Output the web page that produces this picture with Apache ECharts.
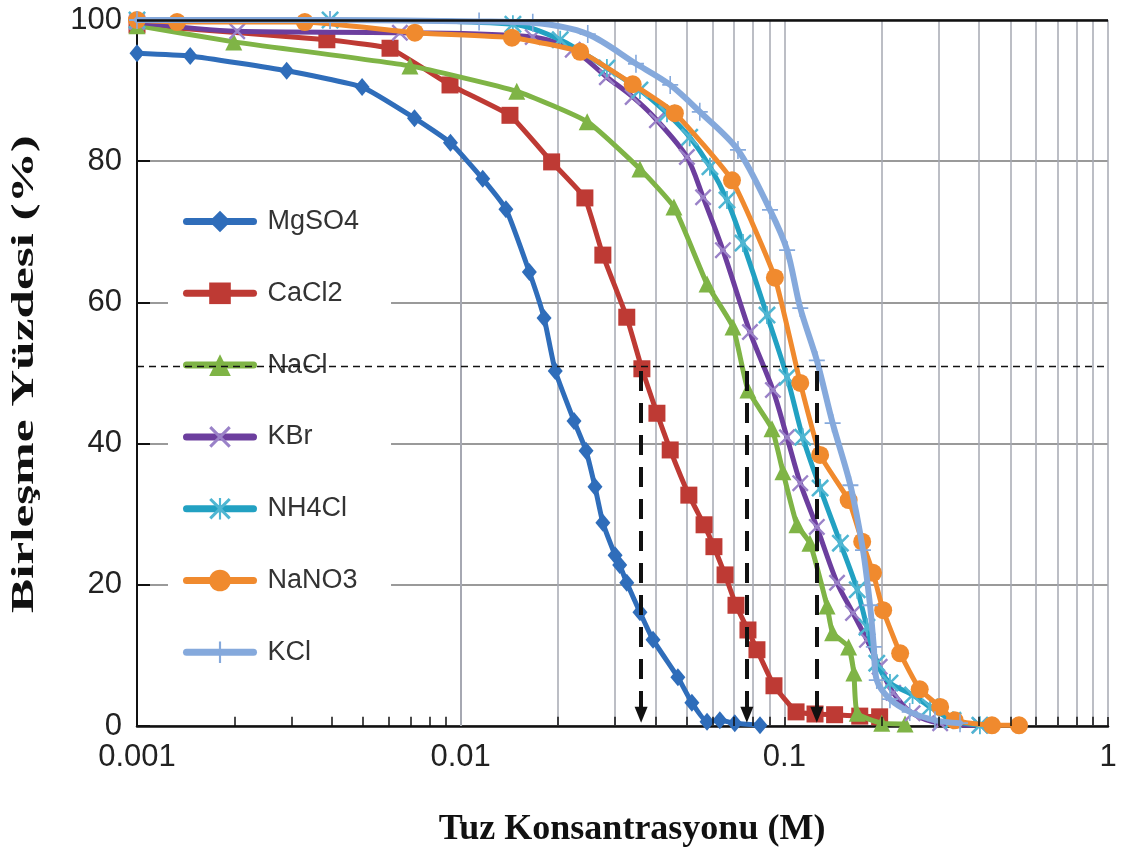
<!DOCTYPE html>
<html><head><meta charset="utf-8">
<script src="https://cdn.jsdelivr.net/npm/echarts@6/dist/echarts.min.js"></script>
<style>html,body{margin:0;padding:0;background:#fff}#c{width:1125px;height:857px}</style>
</head><body><div id="c"></div>
<script>
// ---- data ----
const seriesNames = ['MgSO4', 'CaCl2', 'NaCl', 'KBr', 'NH4Cl', 'NaNO3', 'KCl'];
const xTickLabels = ['0.001', '0.01', '0.1', '1'];
const yTicks = [0, 20, 40, 60, 80, 100];
const minorX = [0.002,0.003,0.004,0.005,0.006,0.007,0.008,0.009,
                0.02,0.03,0.04,0.05,0.06,0.07,0.08,0.09,
                0.2,0.3,0.4,0.5,0.6,0.7,0.8,0.9];
const refLevel = 51;
const arrowX = [0.0361, 0.0766, 0.126];

const mgso4X = [0.001, 0.00146, 0.0029, 0.00496, 0.0072, 0.0093, 0.0117, 0.0138, 0.0163, 0.0181, 0.0196, 0.0224, 0.0244, 0.026, 0.0275, 0.030, 0.031, 0.0326, 0.0358, 0.0393, 0.0469, 0.0518, 0.0577, 0.0632, 0.0703, 0.0841];
const mgso4Y = [95.3, 94.9, 92.8, 90.5, 86.1, 82.6, 77.5, 73.2, 64.3, 57.8, 50.3, 43.2, 39.0, 33.9, 28.8, 24.2, 22.8, 20.3, 16.1, 12.2, 6.9, 3.3, 0.6, 0.8, 0.4, 0.1];

const cacl2X = [0.001, 0.00386, 0.00605, 0.00927, 0.0142, 0.0191, 0.0242, 0.0275, 0.0326, 0.0363, 0.0404, 0.0444, 0.0507, 0.0565, 0.0606, 0.0656, 0.0709, 0.0772, 0.0823, 0.0929, 0.1087, 0.1244, 0.143, 0.171, 0.197];
const cacl2Y = [99.3, 97.2, 96.0, 90.8, 86.5, 79.9, 74.8, 66.7, 57.9, 50.6, 44.3, 39.1, 32.7, 28.5, 25.4, 21.4, 17.1, 13.6, 10.8, 5.7, 2.0, 1.7, 1.6, 1.4, 1.3];

const naclX = [0.001, 0.00199, 0.00697, 0.0149, 0.0246, 0.0358, 0.0456, 0.0577, 0.0694, 0.0772, 0.0916, 0.099, 0.1094, 0.12, 0.1355, 0.141, 0.158, 0.164, 0.168, 0.200, 0.236];
const naclY = [99.2, 96.9, 93.5, 89.9, 85.6, 78.9, 73.5, 62.6, 56.5, 47.6, 42.1, 36.0, 28.5, 25.9, 17.0, 13.2, 11.2, 7.5, 1.8, 0.4, 0.3];

const kbrX = [0.001, 0.00204, 0.00649, 0.0167, 0.0222, 0.0283, 0.034, 0.0404, 0.050, 0.0561, 0.0646, 0.0783, 0.0922, 0.1019, 0.112, 0.126, 0.1455, 0.163, 0.180, 0.197, 0.217, 0.249, 0.303, 0.402];
const kbrY = [99.7, 98.4, 98.2, 97.6, 95.8, 91.9, 89.1, 85.8, 80.6, 74.9, 67.4, 55.8, 47.6, 40.9, 34.4, 28.2, 20.3, 16.0, 12.2, 8.4, 4.7, 1.8, 0.4, 0.1];

const nh4clX = [0.001, 0.00395, 0.0145, 0.0203, 0.0283, 0.0358, 0.0434, 0.051, 0.0589, 0.0665, 0.0745, 0.0884, 0.102, 0.114, 0.129, 0.149, 0.168, 0.180, 0.193, 0.212, 0.249, 0.282, 0.332, 0.402];
const nh4clY = [100, 100, 99.4, 97.2, 93.2, 90.1, 86.8, 83.4, 79.2, 74.5, 68.4, 58.2, 49.4, 40.9, 33.7, 25.9, 19.3, 14.0, 8.9, 6.1, 4.4, 2.7, 0.8, 0.1];

const nano3X = [0.001, 0.00133, 0.0033, 0.00722, 0.0144, 0.0234, 0.034, 0.0459, 0.0689, 0.0935, 0.112, 0.129, 0.158, 0.174, 0.188, 0.202, 0.228, 0.262, 0.303, 0.336, 0.438, 0.531];
const nano3Y = [100, 99.7, 99.7, 98.2, 97.5, 95.5, 90.9, 86.8, 77.3, 63.5, 48.6, 38.4, 32.0, 26.1, 21.7, 16.4, 10.3, 5.2, 2.7, 0.8, 0.1, 0.1];

const kclX = [0.001, 0.00395, 0.0114, 0.0167, 0.0247, 0.0348, 0.0444, 0.0548, 0.0719, 0.0903, 0.102, 0.112, 0.126, 0.141, 0.160, 0.175, 0.184, 0.189, 0.193, 0.212, 0.244, 0.292, 0.349];
const kclY = [100, 100, 99.8, 99.6, 98.0, 93.8, 90.8, 87.0, 81.6, 73.1, 67.4, 59.2, 51.8, 42.9, 34.1, 24.9, 17.1, 11.2, 6.5, 3.8, 2.0, 0.8, 0.4];

// ---- styling ----
const colors = ['#2f6dba', '#be3a34', '#7fb446', '#6c3e9e', '#22a1c2', '#f08a2e', '#85a9dc'];
const markColors = ['#2f6dba', '#be3a34', '#7fb446', '#9a82c8', '#4fb6d2', '#f08a2e', '#85a9dc'];
const X_PATH = 'path://M0,2 L2,0 L10,8 L18,0 L20,2 L12,10 L20,18 L18,20 L10,12 L2,20 L0,18 L8,10 Z';
const STAR_PATH = 'path://M0,2 L2,0 L10,8 L18,0 L20,2 L12,10 L20,18 L18,20 L10,12 L2,20 L0,18 L8,10 Z M9,0 L11,0 L11,20 L9,20 Z';
const PLUS_PATH = 'path://M9,0 L11,0 L11,20 L9,20 Z M0,9 L20,9 L20,11 L0,11 Z';
const symbols = ['diamond', 'rect', 'triangle', X_PATH, STAR_PATH, 'circle', PLUS_PATH];
const symbolSizes = [[15, 18], 17, 17, 17, 18, 18, [16, 18]];
const xs = [mgso4X, cacl2X, naclX, kbrX, nh4clX, nano3X, kclX];
const ys = [mgso4Y, cacl2Y, naclY, kbrY, nh4clY, nano3Y, kclY];
const smooths = [0.15, 0.1, 0.15, 0.3, 0.3, 0.15, 0.3];

const dataSeries = seriesNames.map((n, i) => ({
  name: n, type: 'line',
  data: xs[i].map((x, k) => [x, ys[i][k]]),
  symbol: symbols[i], symbolSize: symbolSizes[i],
  showAllSymbol: true,
  smooth: smooths[i],
  lineStyle: { width: i === 6 ? 6 : 5, color: colors[i], cap: 'round', join: 'round' },
  itemStyle: { color: markColors[i] },
  z: 2 + i * 0.01
}));

const gridLines = minorX.map(v => ({ xAxis: v }));
const tickLines = minorX.map(v => [{ coord: [v, 0] }, { coord: [v, 1.3] }]);

const helper = {
  name: '_grid', type: 'line', data: [], silent: true, z: 1,
  markLine: {
    z: 1, silent: true, animation: false, symbol: 'none',
    label: { show: false },
    lineStyle: { color: '#a6a9b2', width: 1.5, type: 'solid' },
    data: gridLines
  }
};
const helper2 = {
  name: '_ticks', type: 'line', data: [], silent: true, z: 3,
  markLine: {
    z: 3, silent: true, animation: false, symbol: 'none',
    label: { show: false },
    lineStyle: { color: '#111', width: 1.5, type: 'solid' },
    data: tickLines.concat([{ yAxis: 100, lineStyle: { color: '#111', width: 2.5 } }])
  }
};
const refSeries = {
  name: '_ref', type: 'line', data: [], silent: true, z: 10,
  markLine: {
    z: 10, silent: true, animation: false, symbol: 'none',
    label: { show: false },
    lineStyle: { color: '#111', width: 1.3, type: [7, 5] },
    data: [{ yAxis: refLevel }].concat(arrowX.map(x => [
      { coord: [x, refLevel - 0.7], symbol: 'none', lineStyle: { color: '#111', width: 4, type: [20, 12] } },
      { coord: [x, 1.6], symbol: 'triangle', symbolSize: [13, 16] }
    ]))
  }
};

const chart = echarts.init(document.getElementById('c'), null, { renderer: 'canvas' });
chart.setOption({
  animation: false,
  backgroundColor: '#fff',
  grid: { left: 137, right: 17, top: 20, bottom: 131 },
  xAxis: {
    type: 'log', logBase: 10, min: 0.001, max: 1,
    axisLine: { lineStyle: { color: '#111', width: 2.5 } },
    axisTick: { inside: true, length: 9, lineStyle: { color: '#111', width: 1.5 } },
    axisLabel: {
      fontSize: 31, color: '#222', margin: 16, fontFamily: 'Liberation Sans',
      formatter: v => xTickLabels[Math.round(Math.log10(v)) + 3]
    },
    splitLine: { show: true, lineStyle: { color: '#a6a9b2', width: 1.5 } }
  },
  yAxis: {
    type: 'value', min: yTicks[0], max: yTicks[yTicks.length - 1], interval: 20,
    axisLine: { show: true, lineStyle: { color: '#111', width: 2 } },
    axisTick: { show: true, inside: true, length: 13, lineStyle: { color: '#111', width: 2 } },
    axisLabel: { fontSize: 31, color: '#222', margin: 15, fontFamily: 'Liberation Sans' },
    splitLine: { lineStyle: { color: '#9a9a9a', width: 2 } }
  },
  legend: {
    data: seriesNames, orient: 'vertical', left: 168, top: 190,
    backgroundColor: '#fff', padding: [18, 32, 21, 15],
    itemWidth: 67, itemHeight: 27, itemGap: 44.8,
    lineStyle: { width: 7, cap: 'round' },
    textStyle: { fontSize: 27, lineHeight: 27, color: '#333', fontFamily: 'Liberation Sans', padding: [0, 0, 0, 9] },
    z: 4, selectedMode: false
  },
  graphic: [
    { type: 'text', x: 25, y: 374, rotation: Math.PI / 2, scaleX: 1.6, scaleY: 1, z: 20,
      style: { text: 'Birleşme Yüzdesi (%)', font: 'bold 32px "Liberation Serif"', fill: '#111',
               align: 'center', verticalAlign: 'middle', textAlign: 'center', textVerticalAlign: 'middle' } },
    { type: 'text', x: 632, y: 830, z: 20,
      style: { text: 'Tuz Konsantrasyonu (M)', font: 'bold 36px "Liberation Serif"', fill: '#111',
               align: 'center', verticalAlign: 'middle', textAlign: 'center', textVerticalAlign: 'middle' } }
  ],
  series: [helper, helper2].concat(dataSeries).concat([refSeries])
});
</script></body></html>
